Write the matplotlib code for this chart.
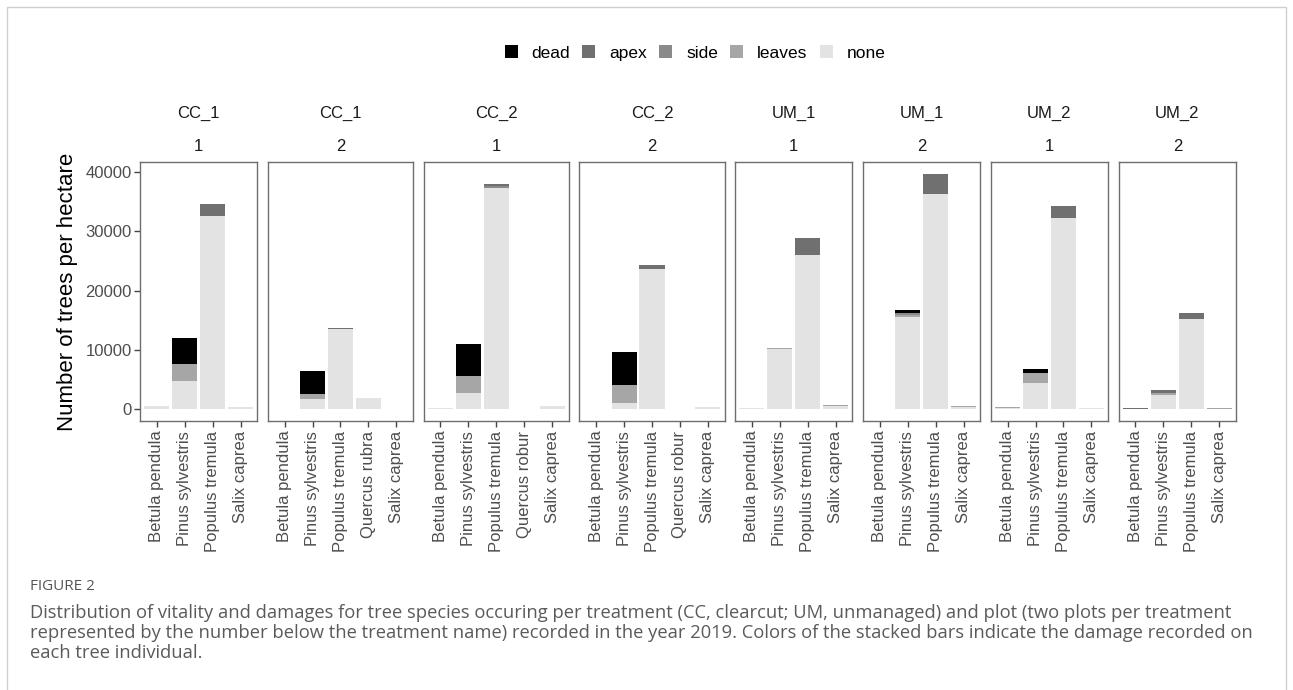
import matplotlib
matplotlib.use("Agg")
import matplotlib.pyplot as plt
from matplotlib.patches import Patch, Rectangle

# ---------------- data ----------------
treatments = ["CC_1", "CC_1", "CC_2", "CC_2", "UM_1", "UM_1", "UM_2", "UM_2"]
plots = ["1", "2", "1", "2", "1", "2", "1", "2"]
species = [
    ["Betula pendula", "Pinus sylvestris", "Populus tremula", "Salix caprea"],
    ["Betula pendula", "Pinus sylvestris", "Populus tremula", "Quercus rubra", "Salix caprea"],
    ["Betula pendula", "Pinus sylvestris", "Populus tremula", "Quercus robur", "Salix caprea"],
    ["Betula pendula", "Pinus sylvestris", "Populus tremula", "Quercus robur", "Salix caprea"],
    ["Betula pendula", "Pinus sylvestris", "Populus tremula", "Salix caprea"],
    ["Betula pendula", "Pinus sylvestris", "Populus tremula", "Salix caprea"],
    ["Betula pendula", "Pinus sylvestris", "Populus tremula", "Salix caprea"],
    ["Betula pendula", "Pinus sylvestris", "Populus tremula", "Salix caprea"],
]
levels = ["dead", "apex", "side", "leaves", "none"]
dead = [
    [0, 4310, 0, 0],
    [0, 3850, 0, 0, 0],
    [0, 5330, 0, 0, 0],
    [0, 5480, 0, 0, 0],
    [0, 0, 0, 0],
    [0, 540, 0, 0],
    [0, 680, 0, 0],
    [0, 0, 0, 0],
]
apex = [
    [0, 0, 1930, 0],
    [0, 0, 160, 0, 0],
    [0, 0, 390, 0, 0],
    [0, 0, 680, 0, 0],
    [0, 0, 2890, 0],
    [0, 0, 3400, 0],
    [0, 0, 2040, 130],
    [150, 390, 960, 0],
]
side = [
    [0, 0, 0, 0],
    [0, 0, 0, 0, 0],
    [0, 0, 290, 0, 0],
    [0, 0, 0, 0, 0],
    [0, 0, 0, 0],
    [0, 250, 0, 0],
    [0, 0, 0, 0],
    [0, 0, 0, 0],
]
leaves = [
    [0, 2890, 0, 100],
    [0, 850, 0, 0, 0],
    [0, 2830, 0, 0, 0],
    [0, 3060, 0, 0, 100],
    [0, 220, 0, 130],
    [0, 400, 0, 150],
    [150, 1670, 0, 0],
    [0, 340, 0, 100],
]
none = [
    [520, 4760, 32630, 300],
    [120, 1700, 13600, 1820, 120],
    [230, 2780, 37380, 70, 500],
    [100, 1090, 23570, 50, 300],
    [230, 10090, 25950, 500],
    [50, 15530, 36310, 450],
    [250, 4450, 32290, 150],
    [0, 2450, 15300, 120],
]
yticks = [0, 10000, 20000, 30000, 40000]

# ---------------- style ----------------
colors = {"dead": "#000000", "apex": "#707070", "side": "#8a8a8a",
          "leaves": "#a6a6a6", "none": "#e3e3e3"}
series = {"dead": dead, "apex": apex, "side": side, "leaves": leaves, "none": none}
FONT = ["Liberation Sans", "DejaVu Sans"]
plt.rcParams["font.family"] = FONT

W, H = 1293, 690
fig = plt.figure(figsize=(W / 100, H / 100), dpi=100)
fig.patch.set_facecolor("white")

# outer frame
fig.add_artist(Rectangle((7 / W, -0.05), (1286 - 7) / W, 1 - 7 / H + 0.05,
                         transform=fig.transFigure, fill=False,
                         edgecolor="#cfcfcf", linewidth=1.0))

# totals for y scale
totals = []
for p in range(len(species)):
    for j in range(len(species[p])):
        totals.append(sum(series[l][p][j] for l in levels))
ymax = max(totals)
ylim = (-0.05 * ymax, 1.05 * ymax)

left_px, right_px, gap_px = 140, 1236, 10.5
top_px, bot_px = 162, 421
units = [len(s) + 0.2 for s in species]
unit_px = (right_px - left_px - gap_px * (len(species) - 1)) / sum(units)

x0 = left_px
stack_order = ["none", "leaves", "side", "apex", "dead"]
for p in range(len(species)):
    wpx = units[p] * unit_px
    ax = fig.add_axes([x0 / W, 1 - bot_px / H, wpx / W, (bot_px - top_px) / H])
    xs = list(range(1, len(species[p]) + 1))
    bottom = [0] * len(xs)
    for l in stack_order:
        vals = series[l][p]
        ax.bar(xs, vals, bottom=bottom, width=0.9, color=colors[l], linewidth=0)
        bottom = [b + v for b, v in zip(bottom, vals)]
    ax.set_xlim(0.4, len(xs) + 0.6)
    ax.set_ylim(*ylim)
    ax.set_xticks(xs)
    ax.set_xticklabels(species[p], rotation=90, fontsize=12, color="#4d4d4d")
    ax.set_yticks(yticks)
    if p == 0:
        ax.set_yticklabels([str(v) for v in yticks], fontsize=12, color="#4d4d4d")
        ax.tick_params(axis="y", length=4, width=1, color="#444444", pad=2)
    else:
        ax.tick_params(axis="y", left=False, labelleft=False)
    ax.tick_params(axis="x", length=4, width=1, color="#444444", pad=3)
    for s in ax.spines.values():
        s.set_color("#6e6e6e")
        s.set_linewidth(1.0)
    cx = (x0 + wpx / 2) / W
    fig.text(cx, 1 - 113.5 / H, treatments[p], ha="center", va="center",
             fontsize=12, color="#1a1a1a")
    fig.text(cx, 1 - 146.5 / H, plots[p], ha="center", va="center",
             fontsize=12, color="#1a1a1a")
    x0 += wpx + gap_px

fig.text(68 / W, 1 - ((top_px + bot_px) / 2) / H, "Number of trees per hectare",
         rotation=90, ha="center", va="center", fontsize=16, color="black")

handles = [Patch(facecolor=colors[l], edgecolor="none", label=l) for l in levels]
fig.legend(handles=handles, loc="center", bbox_to_anchor=(695 / W, 1 - 53 / H),
           ncol=5, frameon=False, fontsize=12.5, handlelength=0.75,
           handleheight=0.75, handletextpad=0.8, columnspacing=0.7,
           borderaxespad=0, borderpad=0)

# caption
cap_font = ["Open Sans", "DejaVu Sans"]
fig.text(30 / W, 1 - 587 / H, "FIGURE 2", ha="left", va="center",
         fontsize=11, color="#555555", family=cap_font)
lines = [
    "Distribution of vitality and damages for tree species occuring per treatment (CC, clearcut; UM, unmanaged) and plot (two plots per treatment",
    "represented by the number below the treatment name) recorded in the year 2019. Colors of the stacked bars indicate the damage recorded on",
    "each tree individual.",
]
ys = [613, 633, 653]
texts = [fig.text(30 / W, 1 - y / H, t, ha="left", va="center", fontsize=12,
                  color="#5a5a5a", family=cap_font)
         for t, y in zip(lines, ys)]
fig.canvas.draw()
r = fig.canvas.get_renderer()
avg_w = (texts[0].get_window_extent(r).width + texts[1].get_window_extent(r).width) / 2
scale = 1210 / avg_w
for t in texts:
    t.set_fontsize(12 * scale)

fig.savefig("out.png", dpi=100, facecolor="white")
